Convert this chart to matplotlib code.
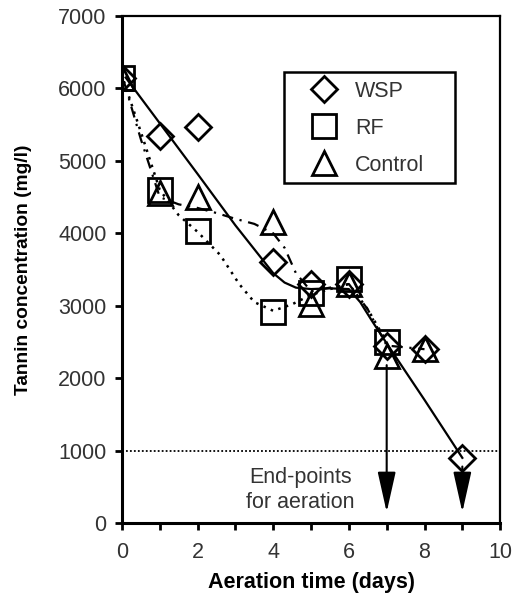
import numpy as np
import matplotlib.pyplot as plt
from matplotlib.patches import Rectangle

plt.rcParams['font.family'] = ['Liberation Sans', 'DejaVu Sans']

# measured points
days_wsp = [0, 1, 2, 4, 5, 6, 7, 8, 9]
wsp = [6150, 5350, 5470, 3600, 3300, 3300, 2450, 2400, 900]
days_rf = [0, 1, 2, 4, 5, 6, 7]
rf = [6150, 4600, 4030, 2920, 3180, 3370, 2500]
days_ctl = [0, 1, 2, 4, 5, 6, 7, 8]
ctl = [6150, 4550, 4500, 4150, 3030, 3300, 2300, 2400]

# trend lines
wsp_fit_x = [0.1, 1, 2, 3, 4, 4.3, 4.6, 5, 5.5, 6, 6.3, 6.6, 7, 8, 9]
wsp_fit_y = [6150, 5520, 4820, 4110, 3450, 3320, 3250, 3230, 3240, 3230, 3050, 2800, 2480, 1700, 900]
rf_fit_x = [0.05, 0.5, 1, 1.5, 2, 2.6, 3.1, 3.5, 4, 4.5, 5, 5.5, 6, 6.5, 7]
rf_fit_y = [6100, 5400, 4600, 4250, 4020, 3700, 3300, 3050, 2930, 3020, 3150, 3230, 3300, 2950, 2500]
ctl_fit_x = [0.05, 0.5, 1, 1.5, 2, 2.5, 3, 3.5, 4, 4.3, 4.6, 5, 5.5, 6, 6.5, 7, 8]
ctl_fit_y = [6100, 5300, 4500, 4400, 4350, 4280, 4200, 4130, 4000, 3800, 3450, 3200, 3250, 3300, 2950, 2450, 2400]

end_days = [7, 9]
end_start = [2180, 780]

fig = plt.figure(figsize=(5.21, 5.93), dpi=100)
ax = fig.add_axes([0.234, 0.118, 0.726, 0.855])

ax.plot(wsp_fit_x, wsp_fit_y, '-', color='black', lw=1.6)
ax.plot(rf_fit_x, rf_fit_y, color='black', lw=1.8, linestyle=(0, (1, 2.2)))
ax.plot(ctl_fit_x, ctl_fit_y, color='black', lw=1.6, linestyle=(0, (5, 3, 1, 3)))

mk = dict(linestyle='none', markerfacecolor='none', markeredgecolor='black', markeredgewidth=2)
ax.plot(days_wsp, wsp, marker='D', markersize=13, label='WSP', **mk)
ax.plot(days_rf, rf, marker='s', markersize=17, label='RF', **mk)
ax.plot(days_ctl, ctl, marker='^', markersize=17, label='Control', **mk)

ax.axhline(1000, color='black', lw=1.3, linestyle=(0, (1, 1.2)))

for d, s in zip(end_days, end_start):
    ax.annotate('', xy=(d, 150), xytext=(d, s),
                arrowprops=dict(arrowstyle='-|>,head_length=1.25,head_width=0.28',
                                mutation_scale=20, color='black', lw=1.5,
                                shrinkA=0, shrinkB=0))

ax.text(4.72, 455, 'End-points\nfor aeration', ha='center', va='center',
        fontsize=15.5, color='#333333', linespacing=1.3)

ax.set_xlim(0, 10)
ax.set_ylim(0, 7000)
ax.set_xticks(range(0, 11))
ax.set_xticklabels([str(i) if i % 2 == 0 else '' for i in range(0, 11)])
ax.set_yticks(range(0, 7001, 1000))
ax.tick_params(axis='both', direction='out', length=5, width=2, labelsize=15.5,
               labelcolor='#333333')
ax.tick_params(axis='x', pad=9)
ax.tick_params(axis='y', pad=6)

for side in ['left', 'bottom']:
    ax.spines[side].set_linewidth(2.2)
for side in ['top', 'right']:
    ax.spines[side].set_linewidth(1.6)

ax.set_xlabel('Aeration time (days)', fontsize=15.5, fontweight='bold', va='top')
ax.set_ylabel('Tannin concentration (mg/l)', fontsize=13.8, fontweight='bold')
ax.xaxis.set_label_coords(0.5, -0.097)
ax.yaxis.set_label_coords(-0.238, 0.5)

# legend: markers only, box drawn separately
leg = ax.legend(loc='upper left', bbox_to_anchor=(0.472, 0.885), fontsize=15.5,
                frameon=False, handletextpad=0.63, handlelength=1.6,
                borderpad=0.3, labelspacing=0.74, markerscale=1.0, borderaxespad=0)
for t in leg.get_texts():
    t.set_color('#333333')
ax.add_patch(Rectangle((0.4286, 0.6706), 0.4524, 0.2189, transform=ax.transAxes,
                       fill=False, edgecolor='black', lw=1.8, zorder=5))

fig.savefig('out.png', dpi=100)
